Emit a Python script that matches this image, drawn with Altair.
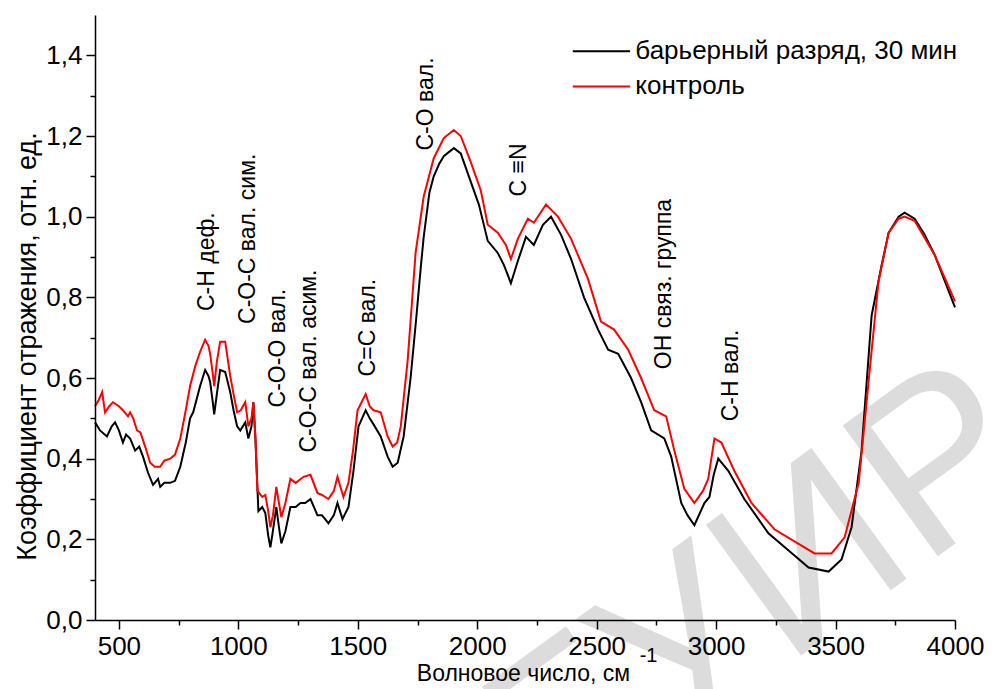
import altair as alt
import pandas as pd

# ---- data ----
x_black = [400, 421, 450, 470, 484, 500, 517, 530, 547, 568, 585, 601, 622, 643, 664, 673, 690, 715, 735, 757,
           780, 798, 811, 840, 861, 875, 882, 893, 899, 910, 924, 945, 966, 980, 995, 1008, 1029, 1042, 1055, 1063,
           1071, 1084, 1100, 1113, 1125, 1134, 1142, 1159, 1170, 1180, 1197, 1218, 1240, 1260, 1280, 1302, 1331, 1350, 1377, 1400,
           1415, 1436, 1461, 1482, 1503, 1533, 1550, 1566, 1596, 1625, 1646, 1667, 1692, 1721, 1745, 1763, 1776, 1800, 1818, 1840,
           1860, 1902, 1931, 1965, 2007, 2044, 2086, 2112, 2141, 2170, 2204, 2237, 2275, 2309, 2351, 2393, 2447, 2506, 2548, 2590,
           2644, 2686, 2728, 2783, 2812, 2854, 2880, 2909, 2951, 2972, 2990, 3009, 3051, 3118, 3219, 3328, 3387, 3471, 3525, 3567,
           3609, 3651, 3693, 3722, 3764, 3789, 3831, 3873, 3915, 4000]
y_black = [0.49, 0.47, 0.455, 0.48, 0.49, 0.47, 0.44, 0.46, 0.45, 0.42, 0.43, 0.405, 0.365, 0.335, 0.35, 0.33, 0.34, 0.34, 0.345, 0.38,
           0.44, 0.50, 0.515, 0.58, 0.62, 0.605, 0.59, 0.54, 0.51, 0.56, 0.62, 0.615, 0.565, 0.52, 0.48, 0.47, 0.49, 0.45, 0.48, 0.54,
           0.455, 0.27, 0.28, 0.265, 0.21, 0.18, 0.21, 0.28, 0.23, 0.19, 0.22, 0.28, 0.28, 0.29, 0.29, 0.30, 0.26, 0.26, 0.24, 0.26,
           0.29, 0.25, 0.28, 0.37, 0.48, 0.52, 0.50, 0.485, 0.455, 0.405, 0.38, 0.39, 0.455, 0.60, 0.75, 0.87, 0.95, 1.06, 1.10, 1.13,
           1.15, 1.17, 1.157, 1.10, 1.03, 0.94, 0.91, 0.88, 0.835, 0.89, 0.95, 0.93, 0.98, 1.0, 0.955, 0.895, 0.80, 0.72, 0.67, 0.66,
           0.60, 0.54, 0.47, 0.45, 0.405, 0.29, 0.26, 0.235, 0.29, 0.305, 0.36, 0.40, 0.37, 0.30, 0.215, 0.16, 0.13, 0.12, 0.15, 0.23,
           0.42, 0.755, 0.88, 0.96, 1.0, 1.01, 0.995, 0.955, 0.905, 0.775]

x_red = [400, 415, 430, 442, 460, 475, 500, 517, 538, 547, 560, 576, 590, 610, 631, 650, 673, 690, 715, 735,
         757, 780, 798, 820, 840, 861, 875, 882, 893, 899, 910, 924, 945, 966, 980, 995, 1010, 1029, 1042, 1055,
         1063, 1072, 1080, 1100, 1113, 1125, 1134, 1145, 1159, 1170, 1180, 1197, 1218, 1240, 1273, 1302, 1331, 1350, 1377, 1400,
         1415, 1440, 1461, 1480, 1499, 1533, 1550, 1566, 1596, 1625, 1646, 1665, 1680, 1709, 1742, 1776, 1818, 1860, 1902, 1931,
         1973, 2015, 2044, 2086, 2120, 2141, 2170, 2212, 2237, 2288, 2338, 2393, 2464, 2518, 2573, 2632, 2686, 2741, 2791, 2825,
         2867, 2909, 2945, 2967, 2993, 3022, 3076, 3148, 3244, 3328, 3412, 3483, 3538, 3597, 3638, 3680, 3722, 3764, 3789, 3831,
         3915, 4000]
y_red = [0.53, 0.545, 0.565, 0.515, 0.53, 0.54, 0.53, 0.52, 0.505, 0.515, 0.50, 0.47, 0.465, 0.43, 0.39, 0.38, 0.38, 0.395, 0.40, 0.41,
         0.45, 0.52, 0.58, 0.63, 0.665, 0.695, 0.68, 0.66, 0.61, 0.58, 0.64, 0.69, 0.69, 0.605, 0.56, 0.515, 0.52, 0.54, 0.48, 0.50,
         0.54, 0.45, 0.32, 0.305, 0.31, 0.27, 0.23, 0.26, 0.33, 0.29, 0.255, 0.29, 0.35, 0.34, 0.355, 0.36, 0.315, 0.31, 0.30, 0.32,
         0.355, 0.305, 0.34, 0.42, 0.52, 0.56, 0.53, 0.52, 0.515, 0.455, 0.43, 0.44, 0.48, 0.645, 0.91, 1.05, 1.145, 1.195, 1.215, 1.20,
         1.135, 1.065, 0.98, 0.96, 0.93, 0.895, 0.945, 0.995, 0.985, 1.03, 1.0, 0.945, 0.845, 0.74, 0.72, 0.67, 0.60, 0.52, 0.505, 0.42,
         0.325, 0.29, 0.32, 0.35, 0.45, 0.44, 0.37, 0.29, 0.225, 0.195, 0.165, 0.165, 0.205, 0.34, 0.59, 0.84, 0.96, 0.995, 1.0, 0.99,
         0.905, 0.79]

series_names = ["барьерный разряд, 30 мин", "контроль"]
series_colors = ["#000000", "#ff0000"]

ann_labels = ["C-H деф.", "C-O-C вал. сим.", "C-O-O вал.", "C-O-C вал. асим.", "C=C вал.",
              "C-O вал.", "C ≡N", "ОН связ. группа", "C-H вал."]
ann_x = [870, 1042, 1168, 1294, 1541, 1784, 2175, 2783, 3064]
ann_y = [0.766, 0.734, 0.527, 0.415, 0.604, 1.164, 1.05, 0.622, 0.4925]

x_ticks = [500, 750, 1000, 1250, 1500, 1750, 2000, 2250, 2500, 2750, 3000, 3250, 3500, 3750, 4000]
y_ticks = [0.0, 0.1, 0.2, 0.3, 0.4, 0.5, 0.6, 0.7, 0.8, 0.9, 1.0, 1.1, 1.2, 1.3, 1.4]

FONT = "Liberation Sans"

df = pd.concat([
    pd.DataFrame({"x": x_black, "y": y_black, "s": series_names[0], "o": 0}),
    pd.DataFrame({"x": x_red, "y": y_red, "s": series_names[1], "o": 1}),
])

xscale = alt.Scale(domain=[400, 4000], nice=False, zero=False)
yscale = alt.Scale(domain=[0, 1.5], nice=False)

xaxis = alt.Axis(
    values=x_ticks, grid=False, domainColor="black", domainWidth=1.5, tickColor="black", tickWidth=1.5,
    tickSize={"condition": {"test": "datum.value % 500 != 0", "value": 5}, "value": 9},
    labelExpr="datum.value % 500 == 0 ? datum.value : ''",
    labelFontSize=26, labelColor="black", labelFont=FONT, labelPadding=4, labelFlush=False,
    title="Волновое число, см", titleFont=FONT, titleFontSize=23, titleFontWeight="normal", titleColor="black",
    titleX=428, titleY=53, titleBaseline="middle", titleAnchor="middle", zindex=1,
)
yaxis = alt.Axis(
    values=y_ticks, grid=False, domainColor="black", domainWidth=1.5, tickColor="black", tickWidth=1.5,
    tickSize={"condition": {"test": "round(datum.value * 10) % 2 == 1", "value": 5}, "value": 9},
    labelExpr="round(datum.value * 10) % 2 == 0 ? replace(format(datum.value, '.1f'), '.', ',') : ''",
    labelFontSize=26, labelColor="black", labelFont=FONT, labelPadding=4,
    title="Коэффициент отражения, отн. ед.", titleFont=FONT, titleFontSize=27, titleFontWeight="normal",
    titleColor="black", titleX=-68, titleY=331, titleBaseline="middle", titleAnchor="middle", zindex=1,
)

# watermark
wm = alt.Chart(pd.DataFrame({"t": ["БГУИР"], "x": [2938], "y": [-0.05]})).mark_text(
    angle=324, fontSize=235, font=FONT, color="#dcdcdc", align="center", baseline="middle"
).encode(x=alt.X("x:Q", scale=xscale), y=alt.Y("y:Q", scale=yscale), text="t:N")

lines = alt.Chart(df).mark_line(strokeWidth=2).encode(
    x=alt.X("x:Q", scale=xscale, axis=xaxis),
    y=alt.Y("y:Q", scale=yscale, axis=yaxis),
    color=alt.Color("s:N", scale=alt.Scale(domain=series_names, range=series_colors), legend=None),
    detail="s:N",
    order="o:Q",
)

ann = alt.Chart(pd.DataFrame({"t": ann_labels, "x": ann_x, "y": ann_y})).mark_text(
    angle=270, align="left", baseline="middle", fontSize=23, font=FONT, color="black"
).encode(x=alt.X("x:Q", scale=xscale), y=alt.Y("y:Q", scale=yscale), text="t:N")

# manual legend
leg_df = pd.DataFrame({"s": series_names, "x1": [2400, 2400], "x2": [2640, 2640], "y": [1.41, 1.323], "tx": [2662, 2662]})
leg_rules = alt.Chart(leg_df).mark_rule(strokeWidth=2).encode(
    x=alt.X("x1:Q", scale=xscale), x2="x2:Q", y=alt.Y("y:Q", scale=yscale),
    color=alt.Color("s:N", scale=alt.Scale(domain=series_names, range=series_colors), legend=None),
)
leg_text = alt.Chart(leg_df).mark_text(align="left", baseline="middle", fontSize=26, font=FONT, color="black").encode(
    x=alt.X("tx:Q", scale=xscale), y=alt.Y("y:Q", scale=yscale), text="s:N"
)

sup = alt.Chart(pd.DataFrame({"t": ["-1"], "x": [2680], "y": [-0.09]})).mark_text(
    align="left", baseline="middle", fontSize=20, font=FONT, color="black"
).encode(x=alt.X("x:Q", scale=xscale), y=alt.Y("y:Q", scale=yscale), text="t:N")

chart = alt.layer(wm, lines, ann, leg_rules, leg_text, sup).properties(
    width=860, height=605,
    autosize=alt.AutoSizeParams(type="none"),
    padding={"left": 95, "top": 15, "right": 37, "bottom": 69},
    background="white",
).configure_view(stroke=None)

chart.save("out.html", embed_options={"renderer": "svg", "actions": False})
